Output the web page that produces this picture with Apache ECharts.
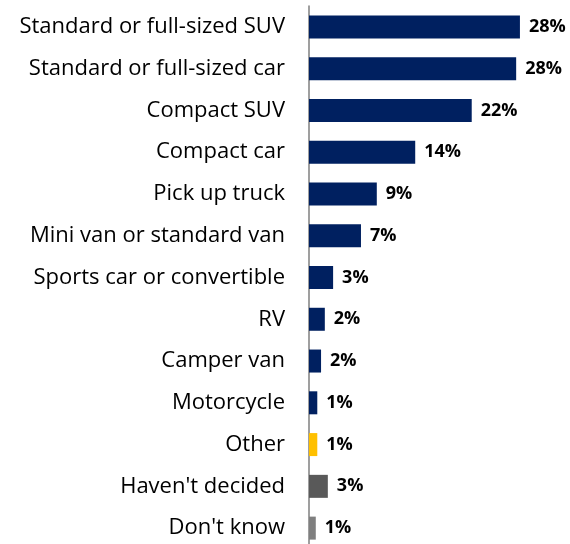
<!DOCTYPE html>
<html>
<head>
<meta charset="utf-8">
<script src="https://cdn.jsdelivr.net/npm/echarts@6/dist/echarts.min.js"></script>
<style>
  html, body { margin: 0; padding: 0; background: #fff; overflow: hidden; }
  #chart { width: 570px; height: 550px; }
</style>
</head>
<body>
<div id="chart"></div>
<script>
// categories, top to bottom
var categories = ['Standard or full-sized SUV', 'Standard or full-sized car', 'Compact SUV',
    'Compact car', 'Pick up truck', 'Mini van or standard van', 'Sports car or convertible',
    'RV', 'Camper van', 'Motorcycle', 'Other', "Haven't decided", "Don't know"];
var values = [28, 27.5, 21.6, 14.1, 9.0, 6.9, 3.2, 2.1, 1.6, 1.1, 1.1, 2.5, 0.9];
var labels = ['28%', '28%', '22%', '14%', '9%', '7%', '3%', '2%', '2%', '1%', '1%', '3%', '1%'];
var barColors = ['#002060', '#002060', '#002060', '#002060', '#002060', '#002060', '#002060',
    '#002060', '#002060', '#002060', '#FFC000', '#595959', '#7F7F7F'];

// chart div is a bit taller than the window: the bottom of the axis is cut off like in the original
var myChart = echarts.init(document.getElementById('chart'));

var data = values.map(function (v, i) {
    return { value: v, itemStyle: { color: barColors[i] } };
});

var option = {
    animation: false,
    grid: { left: 309, right: 35, top: 6, bottom: 1, containLabel: false },
    xAxis: {
        type: 'value',
        min: 0,
        max: 30,
        show: false
    },
    yAxis: {
        type: 'category',
        inverse: true,
        data: categories,
        axisTick: { show: false },
        axisLine: { show: true, lineStyle: { color: '#7F7F7F', width: 1.5 } },
        axisLabel: {
            margin: 24,
            color: '#000',
            fontSize: 22,
            fontFamily: 'Open Sans'
        }
    },
    series: [{
        type: 'bar',
        data: data,
        barWidth: 23,
        label: {
            show: true,
            position: 'right',
            distance: 9,
            color: '#000',
            fontSize: 18,
            fontWeight: 'bold',
            fontFamily: 'Open Sans',
            formatter: function (p) { return labels[p.dataIndex]; }
        }
    }]
};

myChart.setOption(option);
</script>
</body>
</html>
